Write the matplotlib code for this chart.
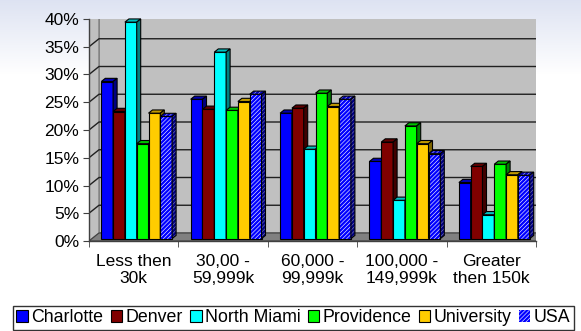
import matplotlib.pyplot as plt
import numpy as np
from matplotlib.patches import Polygon, Rectangle, Patch

plt.rcParams['font.family'] = ['Liberation Sans', 'DejaVu Sans']
plt.rcParams['hatch.linewidth'] = 1.7

categories = ["Less then\n30k", "30,00 -\n59,999k", "60,000 -\n99,999k",
              "100,000 -\n149,999k", "Greater\nthen 150k"]
series = ["Charlotte", "Denver", "North Miami", "Providence", "University", "USA"]
charlotte = [28.3, 25.1, 22.6, 13.9, 10.1]
denver = [22.9, 23.3, 23.5, 17.4, 13.0]
north_miami = [39.0, 33.6, 16.1, 6.9, 4.3]
providence = [17.1, 23.1, 26.2, 20.3, 13.4]
university = [22.6, 24.7, 23.8, 17.1, 11.5]
usa = [22.0, 26.0, 25.1, 15.3, 11.4]
values = [charlotte, denver, north_miami, providence, university, usa]

# front / top / side colours
front = ['#0000ff', '#800000', '#00ffff', '#00ff00', '#ffcc00', 'white']
top = ['#0000b0', '#600000', '#00c0c0', '#00c000', '#c09900', '#c0c0e0']
side = ['#000080', '#400000', '#008080', '#008000', '#806600', '#8080b0']

W, H = 581, 331
fig = plt.figure(figsize=(W / 100, H / 100), dpi=100)

# light gradient at the top of the slide
bg = fig.add_axes([0, 0, 1, 1], zorder=-10)
g = np.ones((H, 1, 3))
n = 75
t = np.linspace(0, 1, n)[:, None]
g[:n, 0, :] = (1 - t) * np.array([0.87, 0.89, 0.95]) + t * np.array([1, 1, 1])
bg.imshow(g, aspect='auto', extent=[0, 1, 0, 1], origin='upper')
bg.axis('off')

ax = fig.add_axes([89 / W, (H - 241) / H, 447 / W, 222 / H])
ax.set_xlim(0, 5)
ax.set_ylim(0, 40)
ax.patch.set_visible(False)
fig.canvas.draw()
p0 = ax.transData.transform((0, 0))
p1 = ax.transData.transform((1, 1))
ppx, ppy = p1 - p0
DX, DY = 10, 8  # depth offset in pixels


def sh(x, y, f):
    return (x + f * DX / ppx, y + f * DY / ppy)


# walls and floor
ax.add_patch(Polygon([sh(0, 0, 1), sh(5, 0, 1), sh(5, 40, 1), sh(0, 40, 1)],
                     fc='#c0c0c0', ec='#808080', lw=1.2, zorder=0.5))
ax.add_patch(Polygon([sh(0, 0, 0), sh(0, 40, 0), sh(0, 40, 1), sh(0, 0, 1)],
                     fc='#c0c0c0', ec='#808080', lw=1, zorder=0.5))
for v in range(5, 40, 5):
    pts = np.array([sh(0, v, 0), sh(0, v, 1), sh(5, v, 1)])
    ax.plot(pts[:, 0], pts[:, 1], color='#202020', lw=1, zorder=0.6)
ax.add_patch(Polygon([sh(0, 0, 0), sh(5, 0, 0), sh(5, 0, 1), sh(0, 0, 1)],
                     fc='#808080', ec='#404040', lw=0.8, zorder=0.7))

# bars
nser = len(series)
bw = 0.132
f0, f1 = 0.3, 0.7
HATCH = '////////'
for c in range(len(categories)):
    for s in range(nser):
        x0 = c + 0.5 - nser * bw / 2 + s * bw
        h = values[s][c]
        hatch = HATCH if s == 5 else None
        fc = front[s]
        # front face
        fx, fy = sh(x0, 0, f0)
        r = Rectangle((fx, fy), bw, h, fc=fc, ec='#0000ff' if hatch else 'none',
                      lw=0, hatch=hatch, zorder=2, clip_on=False)
        ax.add_patch(r)
        ax.add_patch(Rectangle((fx, fy), bw, h, fill=False, ec='black', lw=0.8,
                               zorder=2, clip_on=False))
        # top face
        tp = [sh(x0, h, f0), sh(x0 + bw, h, f0), sh(x0 + bw, h, f1), sh(x0, h, f1)]
        ax.add_patch(Polygon(tp, fc=top[s], ec='#0000c0' if hatch else 'none', lw=0,
                             hatch=hatch, zorder=2, clip_on=False))
        ax.add_patch(Polygon(tp, fill=False, ec='black', lw=0.8, zorder=2, clip_on=False))
        # side face
        sp = [sh(x0 + bw, 0, f0), sh(x0 + bw, h, f0), sh(x0 + bw, h, f1), sh(x0 + bw, 0, f1)]
        ax.add_patch(Polygon(sp, fc=side[s], ec='#000080' if hatch else 'none', lw=0,
                             hatch=hatch, zorder=2, clip_on=False))
        ax.add_patch(Polygon(sp, fill=False, ec='black', lw=0.8, zorder=2, clip_on=False))

for sp_ in ['top', 'right']:
    ax.spines[sp_].set_visible(False)
for sp_ in ['left', 'bottom']:
    ax.spines[sp_].set_color('#404040')
    ax.spines[sp_].set_linewidth(1)

FS = 12.5
ax.set_yticks(range(0, 41, 5))
ax.set_yticklabels([f'{v}%' for v in range(0, 41, 5)], fontsize=FS)
ax.tick_params(axis='y', length=4, pad=3, color='#404040')
ax.set_xticks([i + 0.5 for i in range(5)])
ax.set_xticklabels(categories, fontsize=FS, linespacing=1.2)
ax.set_xticks(range(6), minor=True)
ax.tick_params(axis='x', which='major', length=0, pad=9)
ax.tick_params(axis='x', which='minor', length=4, color='#404040')

handles = []
for s in range(nser):
    if s == 5:
        handles.append(Patch(fc='white', ec='#0000ff', hatch=HATCH, lw=0))
    else:
        handles.append(Patch(fc=front[s], ec='black', lw=0.8))
leg = fig.legend(handles, series, ncol=6, loc='center',
                 bbox_to_anchor=(293.5 / W, (H - 318) / H), fontsize=12.75,
                 frameon=True, fancybox=False, edgecolor='black',
                 handlelength=0.65, handleheight=0.65, handletextpad=0.2,
                 columnspacing=0.4, borderpad=0.2, borderaxespad=0)
leg.get_frame().set_linewidth(1)

fig.savefig('out.png', dpi=100)
